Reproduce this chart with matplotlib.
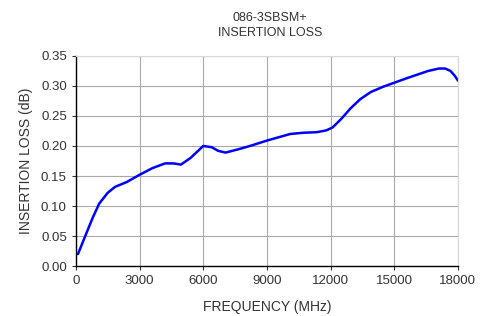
import numpy as np
import matplotlib
matplotlib.use("Agg")
import matplotlib.pyplot as plt

plt.rcParams['font.family'] = ['Liberation Sans', 'DejaVu Sans']

# frequency (MHz) and insertion loss (dB)
freq = [100, 500, 800, 1100, 1500, 1850, 2400, 3000, 3600, 4200, 4600, 4950, 5400,
        6000, 6400, 6700, 7050, 7600, 8200, 9000, 9600, 10100, 10700, 11350,
        11800, 12100, 12500, 12950, 13400, 13900, 14500, 15050, 15600, 16100,
        16600, 17100, 17400, 17650, 17850, 18000]
loss = [0.020, 0.055, 0.081, 0.104, 0.122, 0.132, 0.140, 0.152, 0.163, 0.171, 0.171,
        0.169, 0.180, 0.200, 0.198, 0.192, 0.189, 0.194, 0.200, 0.209, 0.215,
        0.220, 0.222, 0.223, 0.226, 0.231, 0.245, 0.263, 0.278, 0.290, 0.299,
        0.306, 0.313, 0.319, 0.325, 0.329, 0.329, 0.325, 0.317, 0.309]

fig = plt.figure(figsize=(4.8, 3.16), dpi=100)
ax = fig.add_axes([0.158, 0.158, 0.796, 0.665])
ax.plot(freq, loss, color='#0000ff', lw=1.8, solid_capstyle='round',
        solid_joinstyle='round')

ax.set_xlim(0, 18000)
ax.set_ylim(0, 0.35)
ax.set_xticks(np.arange(0, 18001, 3000))
ax.set_yticks(np.arange(0, 0.351, 0.05))
ax.set_yticklabels(['%.2f' % v for v in np.arange(0, 0.351, 0.05)])
ax.grid(True, color='#a8a8a8', lw=0.8)
ax.set_axisbelow(True)
for s in ['top', 'right']:
    ax.spines[s].set_color('#d8d8d8')
for s in ['left', 'bottom']:
    ax.spines[s].set_color('black')
    ax.spines[s].set_linewidth(1.0)
ax.tick_params(labelsize=9.5, length=3, colors='#333333', labelcolor='#333333')

ax.set_xlabel('FREQUENCY (MHz)', fontsize=10, color='#333333', labelpad=9)
ax.set_ylabel('INSERTION LOSS (dB)', fontsize=10, color='#333333', labelpad=6)
fig.text(0.563, 0.918, '086-3SBSM+\nINSERTION LOSS', ha='center', va='center',
         fontsize=9, color='#333333', linespacing=1.35)

fig.savefig('out.png', dpi=100)
